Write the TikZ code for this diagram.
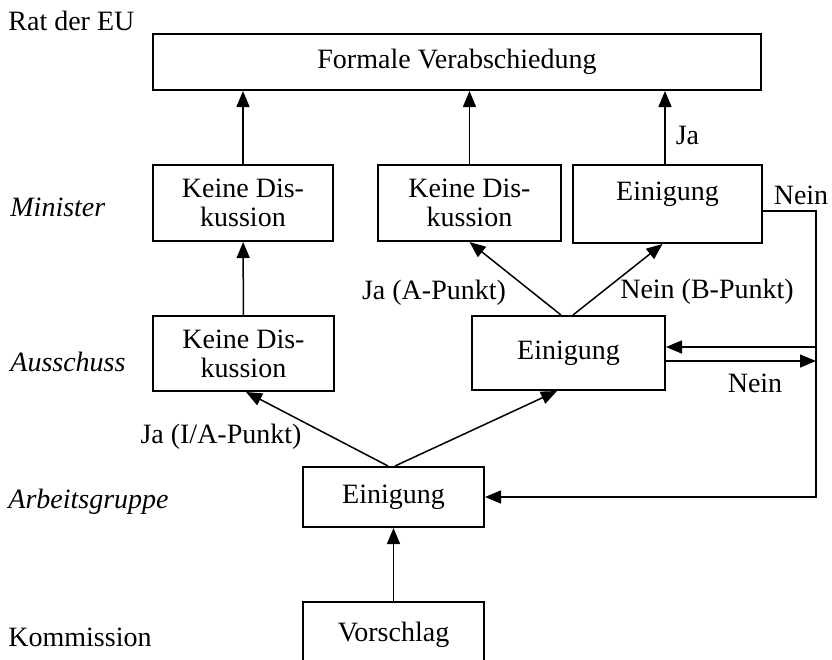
\documentclass[tikz,border=0pt]{standalone}
\usepackage{fontspec}
\setmainfont{Liberation Serif}
\usepackage{tikz}
\usetikzlibrary{arrows.meta, positioning, calc}

\begin{document}
\begin{tikzpicture}[
    x=0.5pt, y=-0.5pt,
    box/.style={draw, line width=1pt, inner sep=2pt, align=center,
                font=\fontsize{14pt}{14.5pt}\selectfont},
    arr/.style={-{Triangle[length=8pt, width=6.5pt]}, line width=0.75pt},
    lbl/.style={inner sep=0pt, font=\fontsize{14pt}{14.5pt}\selectfont},
    row/.style={lbl, anchor=west}
  ]
    \clip (0,0) rectangle (832,660);

    \node[row] (rat) at (8,21) {Rat der EU};
    \node[row] (minister) at (10,207) {\itshape Minister};
    \node[row] (ausschuss) at (10,362) {\itshape Ausschuss};
    \node[row] (arbeit) at (8,502) {\itshape Arbeitsgruppe};
    \node[row] (kommission) at (8,637) {Kommission};

    \node[box, minimum width=304pt, minimum height=28pt] (formal) at (457,62)
      {Formale Verabschiedung};

    \node[box, minimum width=90pt, minimum height=38pt] (m1) at (243,203)
      {Keine Dis-\\kussion};
    \node[box, minimum width=91.5pt, minimum height=38pt] (m2) at (469.5,203)
      {Keine Dis-\\kussion};
    \node[box, minimum width=94.5pt, minimum height=39pt, text depth=12.5pt] (m3)
      at (667.5,204) {Einigung};

    \node[box, minimum width=90.5pt, minimum height=37.5pt] (a1) at (243.5,353.5)
      {Keine Dis-\\kussion};
    \node[box, minimum width=96.5pt, minimum height=37pt] (a2) at (568.5,353)
      {Einigung};

    \node[box, minimum width=90.5pt, minimum height=30pt] (w) at (393.5,497)
      {Einigung};
    \node[box, minimum width=90.5pt, minimum height=33pt] (v) at (393.5,635)
      {Vorschlag};

    \coordinate (rt) at (816,211);
    \coordinate (rb) at (816,497);
    \coordinate (ri) at (816,347);
    \coordinate (ro) at (816,361);

    \draw[arr] (m1) -- (m1 |- formal.south);
    \draw[arr] (m2) -- (m2 |- formal.south);
    \draw[arr] ([xshift=-1.25pt]m3.north) -- ([xshift=-1.25pt]m3.north |- formal.south)
      node[lbl, right=5pt, pos=0.39] {Ja};

    \draw[arr] (a1) -- (m1);
    \draw[arr] ([xshift=-3.75pt]a2.north) -- (m2.south);
    \draw[arr] ([xshift=2.25pt]a2.north) -- ([xshift=-2.5pt]m3.south);
    \node[lbl] (jaA) at (434,293) {Ja (A-Punkt)};
    \node[lbl] (neinB) at (707,292) {Nein (B-Punkt)};

    \draw[arr] ([xshift=-2.75pt]w.north) -- ([xshift=1.25pt]a1.south);
    \draw[arr] ([xshift=0.75pt]w.north) -- ([xshift=-5.75pt]a2.south);
    \node[lbl] (jaIA) at (221,437) {Ja (I/A-Punkt)};

    \draw[arr] (v) -- (w);

    \draw[arr] ([yshift=-3.5pt]m3.east) -- (rt) -- (rb) -- (w.east);
    \node[lbl] (nein1) at (801,195) {Nein};

    \draw[arr] (ri) -- (ri -| a2.east);
    \draw[arr] (ro -| a2.east) -- (ro);
    \node[lbl] (nein2) at (755,383) {Nein};
  \end{tikzpicture}
\end{document}
